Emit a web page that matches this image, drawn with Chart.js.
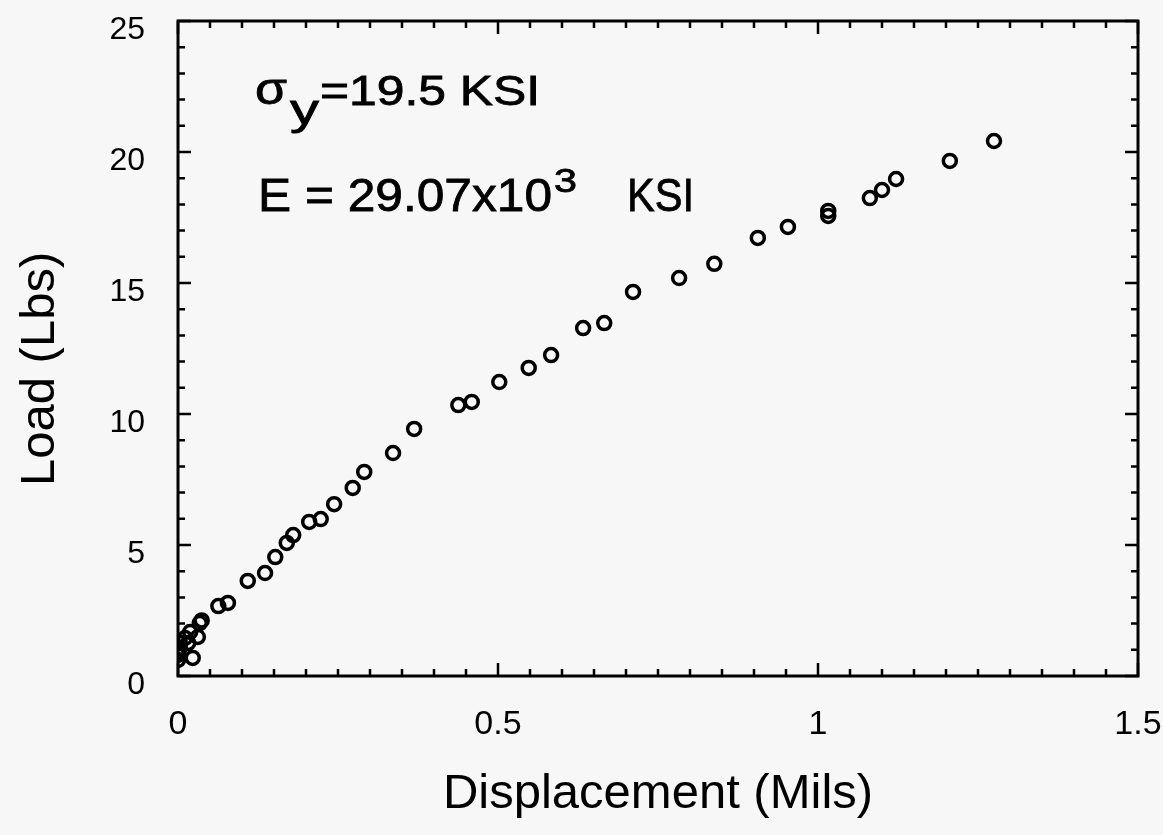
<!DOCTYPE html>
<html>
<head>
<meta charset="utf-8">
<script src="https://cdn.jsdelivr.net/npm/chart.js@4/dist/chart.umd.min.js"></script>
<style>
  html, body { margin: 0; padding: 0; background: #f7f7f7; }
  #wrap { width: 1163px; height: 835px; }
</style>
</head>
<body>
<div id="wrap"><canvas id="c" width="1163" height="835"></canvas></div>
<script>
// Displacement (Mils) and Load (Lbs)
const displacement = [
  0.000, 0.000, 0.000, 0.003, 0.003, 0.011, 0.016, 0.019, 0.023, 0.031, 0.034, 0.037,
  0.063, 0.078, 0.109, 0.136, 0.152, 0.170, 0.180, 0.205, 0.223, 0.244, 0.273, 0.291,
  0.336, 0.369, 0.438, 0.459, 0.502, 0.548, 0.583, 0.633, 0.666, 0.711, 0.783, 0.838,
  0.906, 0.953, 1.016, 1.016, 1.081, 1.100, 1.122, 1.206, 1.275
];
const load = [
  0.61, 0.80, 0.92, 1.07, 1.26, 1.45, 1.26, 1.68, 0.69, 1.49, 2.02, 2.12,
  2.67, 2.79, 3.63, 3.93, 4.54, 5.08, 5.38, 5.88, 5.99, 6.56, 7.18, 7.79,
  8.51, 9.43, 10.34, 10.46, 11.22, 11.76, 12.25, 13.28, 13.47, 14.66, 15.19, 15.73,
  16.72, 17.14, 17.56, 17.75, 18.24, 18.55, 18.97, 19.66, 20.42
];
const xTickValues = [0, 0.5, 1, 1.5];
const yTickValues = [0, 5, 10, 15, 20, 25];
const xTitle = 'Displacement (Mils)';
const yTitle = 'Load (Lbs)';

const FONT = '"Liberation Sans", Arial, Helvetica, sans-serif';

const bgPlugin = {
  id: 'bg',
  beforeDraw(chart) {
    const ctx = chart.ctx;
    ctx.save();
    ctx.fillStyle = '#f7f7f7';
    ctx.fillRect(0, 0, chart.width, chart.height);
    ctx.restore();
  }
};

const framePlugin = {
  id: 'frame',
  afterDatasetsDraw(chart) {
    const {ctx, chartArea: a, scales: {x, y}} = chart;
    ctx.save();
    ctx.strokeStyle = '#000';
    ctx.lineWidth = 2.5;
    ctx.lineCap = 'butt';
    for (let i = 0; i <= 30; i++) {
      const v = i * 0.05;
      const px = x.getPixelForValue(v);
      const len = (i % 10 === 0) ? 13 : 7;
      ctx.beginPath();
      ctx.moveTo(px, a.bottom); ctx.lineTo(px, a.bottom - len);
      ctx.moveTo(px, a.top); ctx.lineTo(px, a.top + len);
      ctx.stroke();
    }
    for (let i = 0; i <= 25; i++) {
      const py = y.getPixelForValue(i);
      const len = (i % 5 === 0) ? 13 : 7;
      ctx.beginPath();
      ctx.moveTo(a.left, py); ctx.lineTo(a.left + len, py);
      ctx.moveTo(a.right, py); ctx.lineTo(a.right - len, py);
      ctx.stroke();
    }
    ctx.lineWidth = 3;
    ctx.strokeRect(a.left, a.top, a.right - a.left, a.bottom - a.top);
    ctx.restore();
  }
};

function stretchText(ctx, text, px, py, size, targetWidth) {
  ctx.save();
  ctx.font = size + 'px ' + FONT;
  const w = ctx.measureText(text).width;
  const s = targetWidth / w;
  ctx.translate(px, py);
  ctx.scale(s, 1);
  ctx.textAlign = 'left';
  ctx.textBaseline = 'alphabetic';
  ctx.fillStyle = '#000';
  ctx.strokeStyle = '#000';
  ctx.lineWidth = 0.8;
  ctx.fillText(text, 0, 0);
  ctx.strokeText(text, 0, 0);
  ctx.restore();
}

const notePlugin = {
  id: 'notes',
  afterDraw(chart) {
    const ctx = chart.ctx;
    stretchText(ctx, 'σ', 255, 104, 44, 32);
    stretchText(ctx, 'y', 290, 124, 42, 29);
    stretchText(ctx, '=19.5 KSI', 320, 105, 42, 220);
    stretchText(ctx, 'E = 29.07x10', 258, 211, 47, 294);
    stretchText(ctx, '3', 554, 192, 34, 23);
    stretchText(ctx, 'KSI', 627, 211, 47, 67);
  }
};

const points = displacement.map((d, i) => ({x: d, y: load[i]}));

new Chart(document.getElementById('c'), {
  type: 'scatter',
  data: {
    datasets: [{
      label: 'Load',
      data: points,
      pointStyle: 'circle',
      pointRadius: 6.5,
      pointHoverRadius: 6.5,
      pointBorderWidth: 3.5,
      pointBorderColor: '#000',
      pointBackgroundColor: 'rgba(0,0,0,0)',
      borderColor: '#000',
      backgroundColor: 'rgba(0,0,0,0)',
      showLine: false
    }]
  },
  options: {
    responsive: false,
    animation: false,
    events: [],
    elements: { point: { radius: 6.5, borderWidth: 3.5, hoverRadius: 6.5 } },
    layout: { padding: { top: 21, right: 25, left: 0, bottom: 0 } },
    plugins: { legend: { display: false }, tooltip: { enabled: false } },
    scales: {
      x: {
        type: 'linear',
        min: 0, max: 1.5,
        afterBuildTicks(s) { s.ticks = xTickValues.map(v => ({value: v})); },
        afterFit(s) { s.height = 159; s.paddingLeft = 0; s.paddingRight = 0; },
        grid: { display: false, drawTicks: false },
        border: { display: false },
        ticks: {
          color: '#000',
          padding: 28,
          maxRotation: 0,
          font: { family: FONT, size: 34 },
          callback: v => String(v)
        },
        title: {
          display: true,
          text: xTitle,
          color: '#000',
          font: { family: FONT, size: 49 },
          padding: { top: 0, bottom: 11 }
        }
      },
      y: {
        type: 'linear',
        min: 0, max: 25,
        afterBuildTicks(s) { s.ticks = yTickValues.map(v => ({value: v})); },
        afterFit(s) { s.width = 178; s.paddingTop = 0; s.paddingBottom = 0; },
        grid: { display: false, drawTicks: false },
        border: { display: false },
        ticks: {
          color: '#000',
          padding: 33,
          labelOffset: 9,
          font: { family: FONT, size: 32 },
          callback: v => String(v)
        },
        title: {
          display: true,
          text: yTitle + '   ',
          color: '#000',
          font: { family: FONT, size: 49 },
          padding: { top: 11, bottom: 0 }
        }
      }
    }
  },
  plugins: [bgPlugin, framePlugin, notePlugin]
});
</script>
</body>
</html>
